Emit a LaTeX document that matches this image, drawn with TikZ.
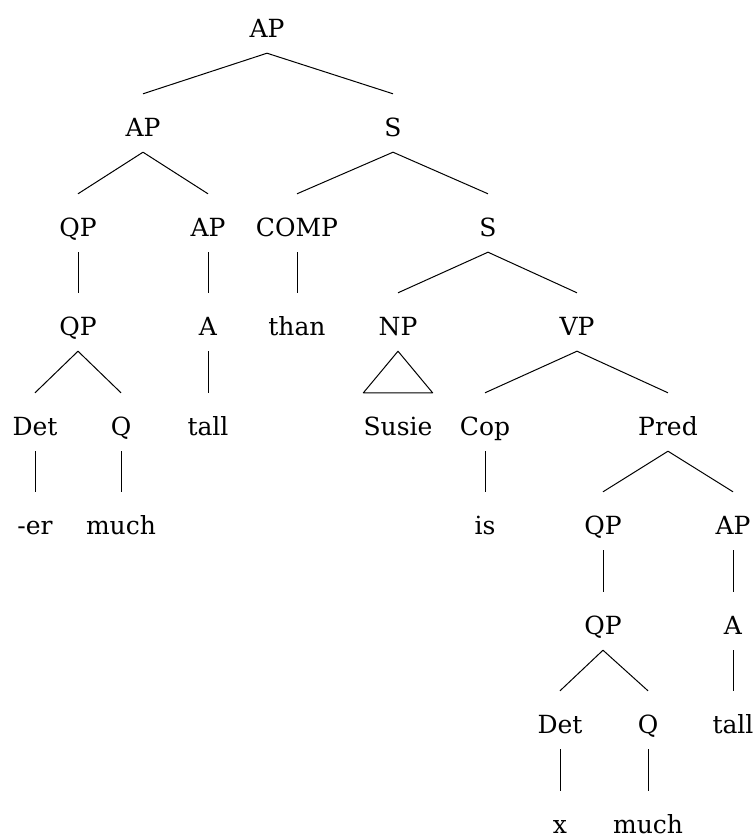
\documentclass[tikz,border=0pt]{standalone}
\usepackage{fontspec}
\setmainfont{DejaVu Serif}

\begin{document}
\begin{tikzpicture}[x=1pt,y=-1pt,
    every node/.style={anchor=base,font=\fontsize{25}{30}\selectfont,
      inner xsep=0pt,inner ysep=4pt,text height=38pt,text depth=12pt},
    every edge/.style={draw,line width=1pt}]
  \useasboundingbox (0,0) rectangle (755,835);
  % labels, one row of the tree at a time
  \node (root) at (267,37) {AP};
  \node (ap1) at (143,136) {AP};
  \node (s1) at (393,136) {S};
  \node (qp1) at (78,236) {QP};
  \node (ap2) at (208,236) {AP};
  \node (comp) at (297,236) {COMP};
  \node (s2) at (488,236) {S};
  \node (qp2) at (78,335) {QP};
  \node (a1) at (208,335) {A};
  \node (than) at (297,335) {than};
  \node (np) at (398,335) {NP};
  \node (vp) at (577,335) {VP};
  \node (det1) at (35,435) {Det};
  \node (q1) at (121,435) {Q};
  \node (tall1) at (208,435) {tall};
  \node (susie) at (398,435) {Susie};
  \node (cop) at (485,435) {Cop};
  \node (pred) at (668,435) {Pred};
  \node (er) at (35,534) {-er};
  \node (much1) at (121,534) {much};
  \node (is) at (485,534) {is};
  \node (qp3) at (603,534) {QP};
  \node (ap3) at (733,534) {AP};
  \node (qp4) at (603,634) {QP};
  \node (a2) at (733,634) {A};
  \node (det2) at (560,733) {Det};
  \node (q2) at (648,733) {Q};
  \node (tall2) at (733,733) {tall};
  \node (x) at (560,833) {x};
  \node (much2) at (648,833) {much};
  % branches
  \path
  (root.south) edge (ap1.north) edge (s1.north)
  (ap1.south) edge (qp1.north) edge (ap2.north)
  (s1.south) edge (comp.north) edge (s2.north)
  (qp1.south) edge (qp2.north)
  (ap2.south) edge (a1.north)
  (comp.south) edge (than.north)
  (s2.south) edge (np.north) edge (vp.north)
  (qp2.south) edge (det1.north) edge (q1.north)
  (a1.south) edge (tall1.north)
  (vp.south) edge (cop.north) edge (pred.north)
  (det1.south) edge (er.north)
  (q1.south) edge (much1.north)
  (cop.south) edge (is.north)
  (pred.south) edge (qp3.north) edge (ap3.north)
  (qp3.south) edge (qp4.north)
  (ap3.south) edge (a2.north)
  (qp4.south) edge (det2.north) edge (q2.north)
  (a2.south) edge (tall2.north)
  (det2.south) edge (x.north)
  (q2.south) edge (much2.north);
  % roof over the NP
  \draw[line width=1pt,line join=round] (np.south) -- (susie.north west) -- (susie.north east) -- cycle;
\end{tikzpicture}
\end{document}
